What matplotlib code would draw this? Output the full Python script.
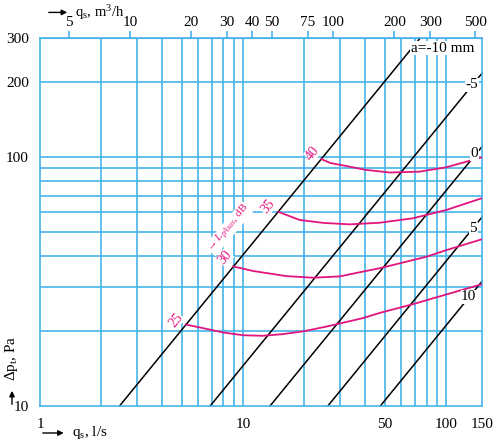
import numpy as np
import matplotlib
matplotlib.use("Agg")
import matplotlib.pyplot as plt

plt.rcParams['font.family'] = ['Liberation Serif', 'DejaVu Serif']
plt.rcParams['mathtext.fontset'] = 'custom'
plt.rcParams['mathtext.rm'] = 'Liberation Serif'
plt.rcParams['mathtext.it'] = 'Liberation Serif:italic'

# ---- data ----
grid_x = [2, 3, 4, 5, 6, 7, 8, 9, 10, 20, 30, 40, 50, 60, 70, 80, 90, 100]
grid_y = [20, 30, 40, 50, 60, 70, 80, 90, 100, 200]
x_ticks = [1, 10, 50, 100, 150]
y_ticks = [10, 100, 200, 300]
top_ticks = [5, 10, 20, 30, 40, 50, 75, 100, 200, 300, 500]  # m3/h

# damper setting lines a (mm): start flow at 10 Pa, end point
a_labels = ["a=-10 mm", "-5", "0", "5", "10"]
a_q_start = [2.47, 6.9, 13.6, 26.2, 47.5]
a_q_end = [74.2, 150, 150, 150, 150]
a_dp_end = [300, 217, 110, 57.3, 31.6]
a_lab_q = [96, 134, 138, 136, 129]
a_lab_dp = [274, 195, 103, 51.4, 27.4]

# sound level curves (dB)
L_levels = ["25", "30", "35", "40"]
c25_q = [5.22, 6.36, 7.97, 10.0, 12.5, 15.7, 19.7, 25.7, 38.9, 47.0, 68.6, 100, 150]
c25_dp = [21.2, 20.5, 19.7, 19.2, 19.1, 19.4, 19.9, 20.8, 22.5, 23.6, 25.6, 28.0, 30.8]
c30_q = [8.93, 11.2, 16.3, 22.1, 29.9, 37.5, 47.0, 54.7, 79.8, 100, 150]
c30_dp = [36.3, 34.8, 33.2, 32.7, 33.1, 34.4, 35.7, 36.8, 39.7, 42.2, 46.7]
c35_q = [14.9, 19.0, 25.0, 33.5, 47.0, 68.6, 100, 150]
c35_dp = [60.2, 55.8, 54.3, 53.6, 54.4, 56.7, 61.2, 68.3]
c40_q = [24.3, 27.0, 32.2, 40.0, 52.7, 73.9, 100, 150]
c40_dp = [98.0, 94.5, 92.0, 88.8, 86.6, 87.3, 90.9, 99.7]
curves_q = [c25_q, c30_q, c35_q, c40_q]
curves_dp = [c25_dp, c30_dp, c35_dp, c40_dp]
L_lab_q = [4.66, 8.13, 13.2, 22.0]
L_lab_dp = [22.1, 39.3, 63.0, 103.8]

GRID = '#45B4EA'
MAG = '#E2157E'

fig = plt.figure(figsize=(5.0, 4.43), dpi=100)
ax = fig.add_axes([0.08, 0.0842, 0.884, 0.8293])
ax.set_xscale('log')
ax.set_yscale('log')
ax.set_xlim(1, 150)
ax.set_ylim(10, 300)

for gx in grid_x:
    ax.axvline(gx, color=GRID, lw=1.2, zorder=0)
for gy in grid_y:
    ax.axhline(gy, color=GRID, lw=1.2, zorder=0)
for s in ax.spines.values():
    s.set_color(GRID)
    s.set_linewidth(1.2)

ax.set_xticks(x_ticks)
ax.set_xticklabels([str(v) for v in x_ticks])
ax.set_yticks(y_ticks)
ax.set_yticklabels([str(v) for v in y_ticks])
ax.minorticks_off()
ax.tick_params(axis='both', length=0, labelsize=11)
ax.tick_params(axis='x', pad=9)
ax.tick_params(axis='y', pad=8)

sec = ax.secondary_xaxis('top', functions=(lambda q: q * 3.6, lambda m: m / 3.6))
sec.set_xticks(top_ticks)
sec.set_xticklabels([str(v) for v in top_ticks])
sec.minorticks_off()
sec.tick_params(axis='x', direction='out', length=5, width=1.2, color=GRID,
                labelsize=11, pad=2)
sec.spines['top'].set_color(GRID)

# damper lines
for i in range(len(a_labels)):
    ax.plot([a_q_start[i], a_q_end[i]], [10, a_dp_end[i]], color='black', lw=1.1, zorder=2,
            clip_on=False)
    ax.text(a_lab_q[i], a_lab_dp[i], a_labels[i], fontsize=11, ha='center', va='center',
            zorder=4, bbox=dict(facecolor='white', edgecolor='none', pad=0.3))

# sound curves
for i in range(len(L_levels)):
    ax.plot(curves_q[i], curves_dp[i], color=MAG, lw=1.3, zorder=3)
    ax.text(L_lab_q[i], L_lab_dp[i], L_levels[i], fontsize=10, color=MAG, rotation=50,
            ha='center', va='center', zorder=5,
            bbox=dict(facecolor='white', edgecolor='none', pad=0.2))

ax.text(8.5, 51.5, '\u2192 $L_{pAsus}$, dB', fontsize=8, color=MAG, rotation=50,
        ha='center', va='center', zorder=4,
        bbox=dict(facecolor='white', edgecolor='none', pad=0.1))

# axis labels with arrows
ap = dict(arrowstyle='-|>', color='black', lw=1.0, mutation_scale=8)
fig.patches.append(matplotlib.patches.FancyArrowPatch((0.092, 0.972), (0.140, 0.972),
                   transform=fig.transFigure, **ap))
fig.text(0.150, 0.972, r'q$_\mathrm{s}$, m$^3$/h', fontsize=10.5, ha='left', va='center')

fig.patches.append(matplotlib.patches.FancyArrowPatch((0.080, 0.0226), (0.133, 0.0226),
                   transform=fig.transFigure, **ap))
fig.text(0.143, 0.0226, r'q$_\mathrm{s}$, l/s', fontsize=11, ha='left', va='center')

fig.patches.append(matplotlib.patches.FancyArrowPatch((0.024, 0.081), (0.024, 0.124),
                   transform=fig.transFigure, **ap))
fig.text(0.024, 0.192, r'$\Delta$p$_\mathrm{t}$, Pa', fontsize=11, ha='center', va='center',
         rotation=90)

fig.savefig('out.png', dpi=100)
